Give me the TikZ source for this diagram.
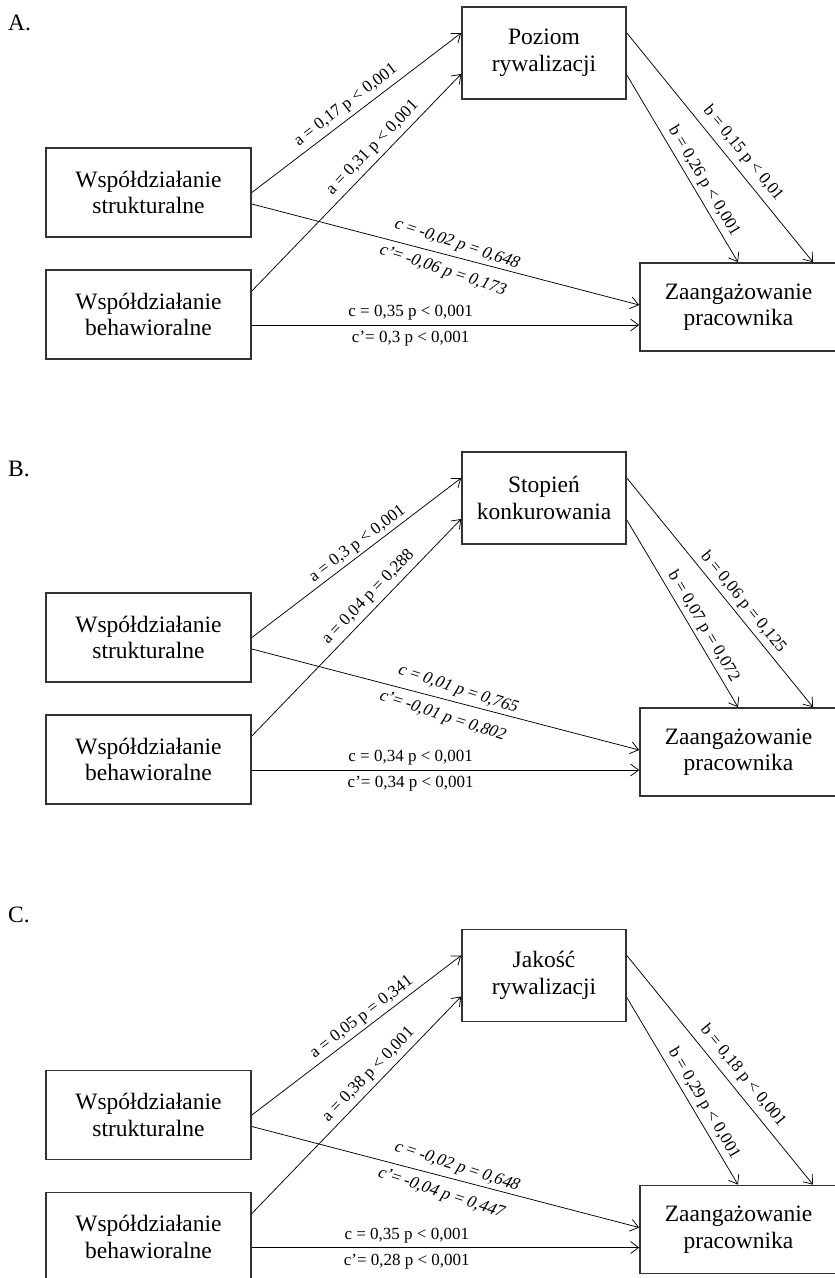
\documentclass[tikz,border=0pt]{standalone}
\usepackage{fontspec}
\setmainfont{Liberation Serif}
\newfontfamily\slfont[FakeSlant=0.22]{Liberation Serif}
\usetikzlibrary{arrows.meta}
\newcommand\boxfont{\fontsize{23.5}{26.5}\selectfont}
\newcommand\labfont{\fontsize{17}{20}\selectfont}

\tikzset{
  box/.style={draw=black!80, line width=1.7pt, align=center, font=\boxfont, inner sep=0pt},
  sbox/.style={box, minimum width=205pt, minimum height=89pt},
  mbox/.style={box, minimum width=164pt, minimum height=92pt},
  obox/.style={box, minimum width=197pt, minimum height=88pt},
  link/.style={draw=black, line width=0.75pt, -{Straight Barb[length=8pt,width=12pt]}},
  lab/.style={font=\labfont, inner sep=0pt, text height=12pt, text depth=4pt, sloped},
  clab/.style={lab, font=\labfont\slfont, rotate=-3.5},
  tag/.style={font=\boxfont, anchor=base west, inner sep=0pt}
}

\begin{document}
\begin{tikzpicture}[x=1pt,y=-1pt]
\useasboundingbox (0,0) rectangle (835,1278);
\clip (0,0) rectangle (835,1278);

% ---------------- Panel A ----------------
\node[tag] (At) at (8,30) {A.};
\node[sbox] (As) at (148.5,192.5) {Współdziałanie\\strukturalne};
\node[sbox] (Ab) at (148.5,314.5) {Współdziałanie\\behawioralne};
\node[mbox] (Am) at (544,53) {Poziom\\rywalizacji};
\node[obox] (Ao) at (738.5,307) {Zaangażowanie\\pracownika};

\draw[link] (As.east) -- ([yshift=20pt]Am.west)
  node[lab, pos=0.485, above=4pt] (Aa1) {a = 0,17 p < 0,001};
\draw[link] ([yshift=23.5pt]Ab.east) -- ([yshift=-21pt]Am.west)
  node[lab, pos=0.62, above=4pt] (Aa2) {a = 0,31 p < 0,001};
\draw[link] ([yshift=-11.5pt]As.east) -- ([yshift=2pt]Ao.west)
  node[clab, pos=0.517, above=4.5pt] (Ac1) {c = -0,02 p = 0,648}
  node[clab, pos=0.504, below=8pt] (Ac2) {c’= -0,06 p = 0,173};
\draw[link] ([yshift=-10.5pt]Ab.east) -- ([yshift=-18pt]Ao.west)
  node[lab, pos=0.41, above=3.75pt] (Ac3) {c = 0,35 p < 0,001}
  node[lab, pos=0.41, below=5.5pt] (Ac4) {c’= 0,3 p < 0,001};
\draw[link] ([yshift=20pt]Am.east) -- ([xshift=74.5pt]Ao.north)
  node[lab, pos=0.564, above=5.7pt] (Ab1) {b = 0,15 p < 0,01};
\draw[link] ([yshift=-22pt]Am.east) -- ([xshift=-0.5pt]Ao.north)
  node[lab, pos=0.6, above=3.5pt] (Ab2) {b = 0,26 p < 0,001};

% ---------------- Panel B ----------------
\begin{scope}[shift={(0,445)}]
\node[tag] (Bt) at (8,31.7) {B.};
\node[sbox] (Bs) at (148.5,192.5) {Współdziałanie\\strukturalne};
\node[sbox] (Bb) at (148.5,314.5) {Współdziałanie\\behawioralne};
\node[mbox] (Bm) at (544,53) {Stopień\\konkurowania};
\node[obox] (Bo) at (738.5,307) {Zaangażowanie\\pracownika};

\draw[link] (Bs.east) -- ([yshift=20pt]Bm.west)
  node[lab, pos=0.535, above=2pt] (Ba1) {a = 0,3 p < 0,001};
\draw[link] ([yshift=23.5pt]Bb.east) -- ([yshift=-21pt]Bm.west)
  node[lab, pos=0.6, above=4.2pt] (Ba2) {a = 0,04 p = 0,288};
\draw[link] ([yshift=-11.5pt]Bs.east) -- ([yshift=2pt]Bo.west)
  node[clab, pos=0.52, above=4.5pt] (Bc1) {c = 0,01 p = 0,765}
  node[clab, pos=0.504, below=8.5pt] (Bc2) {c’= -0,01 p = 0,802};
\draw[link] ([yshift=-10.5pt]Bb.east) -- ([yshift=-18pt]Bo.west)
  node[lab, pos=0.41, above=3.75pt] (Bc3) {c = 0,34 p < 0,001}
  node[lab, pos=0.41, below=5.5pt] (Bc4) {c’= 0,34 p < 0,001};
\draw[link] ([yshift=20pt]Bm.east) -- ([xshift=74.5pt]Bo.north)
  node[lab, pos=0.575, above=3.5pt] (Bb1) {b = 0,06 p = 0,125};
\draw[link] ([yshift=-22pt]Bm.east) -- ([xshift=-0.5pt]Bo.north)
  node[lab, pos=0.6, above=2.9pt] (Bb2) {b = 0,07 p = 0,072};
\end{scope}

% ---------------- Panel C ----------------
\begin{scope}[shift={(0,922.5)}]
\node[tag] (Ct) at (8,0.3) {C.};
\node[sbox] (Cs) at (148.5,192.5) {Współdziałanie\\strukturalne};
\node[sbox] (Cb) at (148.5,314.5) {Współdziałanie\\behawioralne};
\node[mbox] (Cm) at (544,53) {Jakość\\rywalizacji};
\node[obox] (Co) at (738.5,307) {Zaangażowanie\\pracownika};

\draw[link] (Cs.east) -- ([yshift=20pt]Cm.west)
  node[lab, pos=0.557, above=2.75pt] (Ca1) {a = 0,05 p = 0,341};
\draw[link] ([yshift=23.5pt]Cb.east) -- ([yshift=-21pt]Cm.west)
  node[lab, pos=0.6, above=3.9pt] (Ca2) {a = 0,38 p < 0,001};
\draw[link] ([yshift=-11.5pt]Cs.east) -- ([yshift=2pt]Co.west)
  node[clab, pos=0.517, above=4.5pt] (Cc1) {c = -0,02 p = 0,648}
  node[clab, pos=0.5, below=8.5pt] (Cc2) {c’= -0,04 p = 0,447};
\draw[link] ([yshift=-10.5pt]Cb.east) -- ([yshift=-18pt]Co.west)
  node[lab, pos=0.40, above=3.75pt] (Cc3) {c = 0,35 p < 0,001}
  node[lab, pos=0.40, below=5.5pt] (Cc4) {c’= 0,28 p < 0,001};
\draw[link] ([yshift=20pt]Cm.east) -- ([xshift=74.5pt]Co.north)
  node[lab, pos=0.564, above=5.7pt] (Cb1) {b = 0,18 p < 0,001};
\draw[link] ([yshift=-22pt]Cm.east) -- ([xshift=-0.5pt]Co.north)
  node[lab, pos=0.6, above=3.5pt] (Cb2) {b = 0,29 p < 0,001};
\end{scope}
\end{tikzpicture}
\end{document}
